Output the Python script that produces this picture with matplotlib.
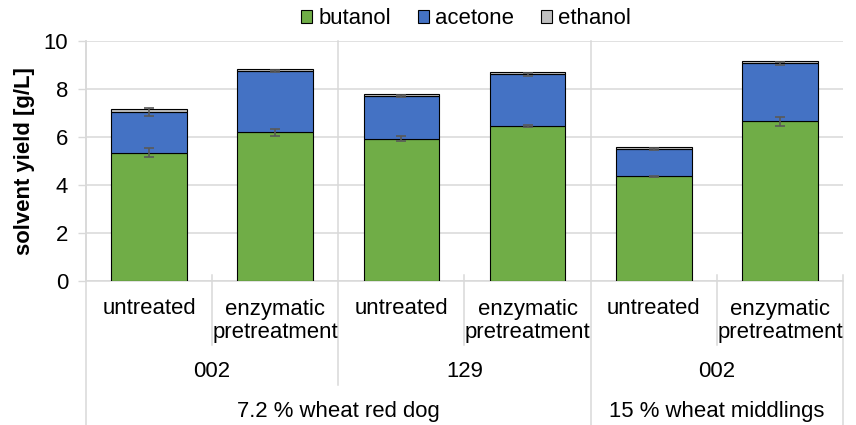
import matplotlib.pyplot as plt
import numpy as np

plt.rcParams['font.family'] = ['Liberation Sans', 'DejaVu Sans']

treatments = ['untreated', 'enzymatic\npretreatment'] * 3
strains = ['002', '129', '002']
media = ['7.2 % wheat red dog', '15 % wheat middlings']

butanol = [5.35, 6.20, 5.93, 6.45, 4.36, 6.65]
acetone = [1.69, 2.55, 1.78, 2.16, 1.13, 2.42]
ethanol = [0.12, 0.08, 0.08, 0.10, 0.09, 0.10]
butanol_err = [0.18, 0.15, 0.10, 0.05, 0.03, 0.20]
acetone_err = [0.18, 0.05, 0.03, 0.05, 0.05, 0.06]

green = '#70AD47'
blue = '#4472C4'
grey = '#BFBFBF'
grid_c = '#D9D9D9'
err_c = '#595959'
fs = 15.9

fig = plt.figure(figsize=(8.56, 4.25), dpi=100)
ax = fig.add_axes([86 / 856, 1 - 281 / 425, 757 / 856, 240 / 425])

x = np.arange(len(butanol))
b = np.array(butanol)
a = np.array(acetone)
e = np.array(ethanol)
w = 0.6
ax.bar(x, b, w, color=green, edgecolor='black', linewidth=0.8, label='butanol', zorder=3)
ax.bar(x, a, w, bottom=b, color=blue, edgecolor='black', linewidth=0.8, label='acetone', zorder=3)
ax.bar(x, e, w, bottom=b + a, color=grey, edgecolor='black', linewidth=0.8, label='ethanol', zorder=3)
ax.errorbar(x, b, yerr=butanol_err, fmt='none', ecolor=err_c, elinewidth=1.2,
            capsize=3.3, capthick=1.2, zorder=4)
ax.errorbar(x, b + a, yerr=acetone_err, fmt='none', ecolor=err_c, elinewidth=1.2,
            capsize=3.3, capthick=1.2, zorder=4)

ax.set_xlim(-0.5, len(x) - 0.5)
ax.set_ylim(0, 10)
ax.set_yticks(range(0, 11, 2))
ax.set_xticks([])
ax.tick_params(axis='y', labelsize=fs, length=5.8, width=1, color=grid_c, pad=7)
ax.grid(axis='y', color=grid_c, linewidth=1.1, zorder=0)
for s in ['top', 'right']:
    ax.spines[s].set_visible(False)
for s in ['left', 'bottom']:
    ax.spines[s].set_color(grid_c)
    ax.spines[s].set_linewidth(1.1)

ax.set_ylabel('solvent yield [g/L]', fontsize=fs, fontweight='bold')
ax.yaxis.set_label_coords(-0.068, 0.5)

# multi-level category axis
tr = ax.get_xaxis_transform()
px = 1 / 240


def vline(xv, y0, y1):
    ax.plot([xv, xv], [y0, y1], color=grid_c, linewidth=1.1, transform=tr,
            clip_on=False, zorder=1)


for xv in [0.5, 2.5, 4.5]:
    vline(xv, 6 * px, -64 * px)
vline(1.5, 1, -104 * px)
vline(3.5, 1, -144 * px)
vline(-0.5, 1, -144 * px)
vline(len(x) - 0.5, 6 * px, -144 * px)

for i, t in enumerate(treatments):
    yc = -40 * px if '\n' in t else -27 * px
    ax.text(i, yc, t, transform=tr, ha='center', va='center',
            fontsize=fs, linespacing=1.15)
for j, s in enumerate(strains):
    ax.text(2 * j + 0.5, -91 * px, s, transform=tr, ha='center', va='center', fontsize=fs)
ax.text(1.5, -131 * px, media[0], transform=tr, ha='center', va='center', fontsize=fs)
ax.text(4.5, -131 * px, media[1], transform=tr, ha='center', va='center', fontsize=fs)

fig.legend(loc='center', bbox_to_anchor=(466 / 856, 1 - 19 / 425), ncol=3, frameon=False,
           fontsize=fs, handlelength=0.5, handleheight=0.5, handletextpad=0.3,
           columnspacing=1.2, borderpad=0)

fig.savefig('out.png', dpi=100)
